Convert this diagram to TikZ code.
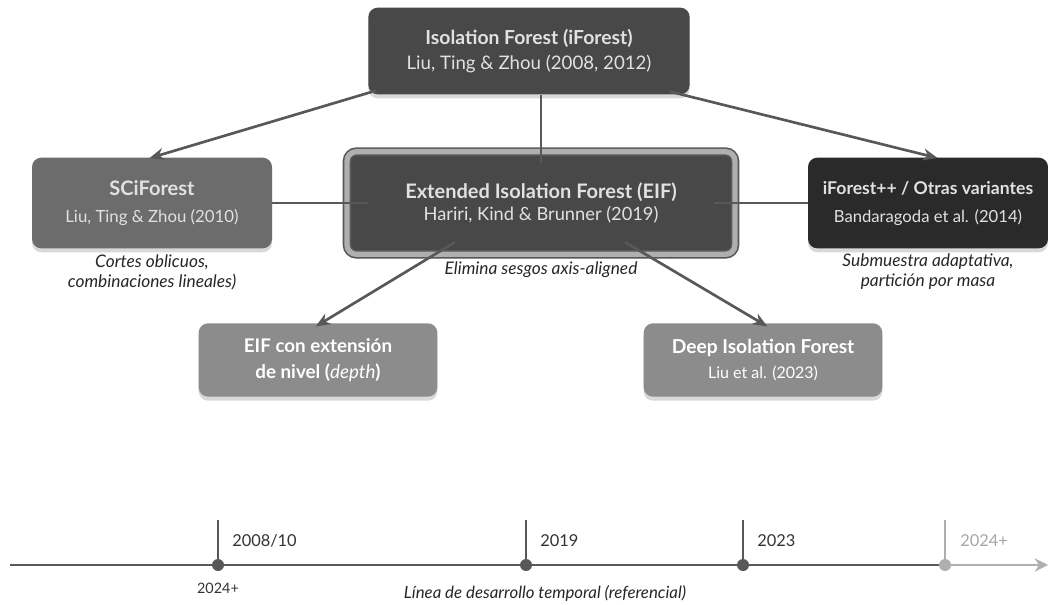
\documentclass[tikz,border=0pt]{standalone}
\usepackage{fontspec}
\setmainfont{Lato}
\usepackage{tikz}
\usetikzlibrary{calc, arrows.meta, shadows}
\tikzset{>=latex}
\definecolor{mygray1}{RGB}{72, 72, 72}
\definecolor{mygray2}{RGB}{108, 108, 108}
\definecolor{mygray3}{RGB}{42, 42, 42}
\definecolor{mygray4}{RGB}{140, 140, 140}
\definecolor{mygray5}{RGB}{88, 88, 88}
\definecolor{mygray6}{RGB}{225, 225, 225}
\definecolor{mygray7}{RGB}{175, 175, 175}

\begin{document}
\begin{tikzpicture}[
    x = 0.75pt, y = -0.75pt,
    b0/.style = {rounded corners = 7pt, align = center, text = mygray6, inner sep = 0pt,
                 drop shadow = {opacity = 0.3, shadow xshift = 0pt, shadow yshift = -3pt}},
    b1/.style = {b0, minimum width = 180pt, minimum height = 68pt},
    b2/.style = {b0, minimum width = 179pt, minimum height = 55pt, fill = mygray4, text = white},
    l0/.style = {line width = 2pt, draw = mygray5},
    l1/.style = {l0, -{Stealth[length = 11pt, width = 9pt]}, shorten > = -2pt},
    n0/.style = {align = center, font = \fontsize{13}{15}\selectfont\itshape, text = black!85},
    y0/.style = {anchor = west, inner sep = 0pt, font = \fontsize{12.3}{14}\selectfont, text = black!80},
    p0/.style = {circle, fill = mygray5, minimum size = 9pt, inner sep = 0pt},
]
\useasboundingbox (0,0) rectangle (1048,605);

\node[b0, fill = mygray1, minimum width = 241pt, minimum height = 65pt,
      font = \fontsize{14}{19}\selectfont] (ifo) at (529,51)
      {\textbf{\fontsize{14.5}{19}\selectfont Isolation Forest (iForest)}\\Liu, Ting \& Zhou (2008, 2012)};
\node[b1, fill = mygray2, font = \fontsize{12.6}{20}\selectfont] (sci) at (152,203)
      {\textbf{\fontsize{15}{20}\selectfont SCiForest}\\Liu, Ting \& Zhou (2010)};
\node[b0, fill = mygray1, minimum width = 291pt, minimum height = 77pt,
      draw = mygray5, line width = 1.2pt, double = mygray7, double distance = 4pt,
      font = \fontsize{13.7}{17}\selectfont] (eif) at (541,203)
      {\textbf{\fontsize{15}{17}\selectfont Extended Isolation Forest (EIF)}\\Hariri, Kind \& Brunner (2019)};
\node[b1, fill = mygray3, font = \fontsize{12.5}{21}\selectfont] (ipp) at (928,203)
      {\textbf{\fontsize{13.2}{21}\selectfont iForest++ / Otras variantes}\\Bandaragoda et al. (2014)};
\node[b2, font = \fontsize{14.1}{19}\selectfont\bfseries] (ext) at (318,360)
      {EIF con extensión\\de nivel (\textmd{\textit{depth}})};
\node[b2, font = \fontsize{12}{19}\selectfont] (dif) at (763,360)
      {\textbf{\fontsize{14.4}{19}\selectfont Deep Isolation Forest}\\Liu et al. (2023)};

\node[n0] (nsci) at (152,272) {Cortes oblicuos,\\combinaciones lineales)};
\node[n0] (neif) at (541,270) {Elimina sesgos axis-aligned};
\node[n0] (nipp) at (928,272) {Submuestra adaptativa,\\partición por masa};

\draw[l1] ($(ifo.south west)+(8,-4)$) -- (sci.north);
\draw[l1] ($(ifo.south east)+(-20,-3)$) -- ($(ipp.north)+(7,0)$);
\draw[l0] (eif.north |- ifo.south) -- ($(eif.north)+(0,12)$);
\draw[l0] (sci.east) -- ($(eif.west)+(22,0)$);
\draw[l0] ($(eif.east)+(-22,0)$) -- (ipp.west);
\draw[l1] ($(eif.south)+(-86,-13)$) -- ($(ext.north)+(0,2)$);
\draw[l1] ($(eif.south)+(84,-13)$) -- ($(dif.north)+(2,2)$);

\coordinate (t0) at (10,565);
\coordinate (t5) at (1048,565);
\coordinate (k1) at (218,520);
\coordinate (k2) at (526,520);
\coordinate (k3) at (743,520);
\coordinate (k4) at (945,520);
\draw[l0, line width = 2.2pt, draw = mygray7, -{Stealth[length = 10pt, width = 10pt]}] (k4 |- t0) -- (t5);
\draw[l0, line width = 2.2pt] (t0) -- (k4 |- t0);
\node[p0] (y1) at (218,565) {};
\node[p0] (y2) at (526,565) {};
\node[p0] (y3) at (743,565) {};
\node[p0, fill = mygray7] (y4) at (945,565) {};
\draw[mygray5, line width = 1.1pt] (k1) -- (y1);
\draw[mygray5, line width = 1.1pt] (k2) -- (y2);
\draw[mygray5, line width = 1.1pt] (k3) -- (y3);
\draw[mygray7, line width = 1.1pt] (k4) -- (y4);
\node[y0] (v1) at (232,541) {2008/10};
\node[y0] (v2) at (540,541) {2019};
\node[y0] (v3) at (757,541) {2023};
\node[y0, text = black!35] (v4) at (960,541) {2024+};
\node[font = \fontsize{10.8}{12}\selectfont, text = black!80] (v5) at (218,588) {2024+};
\node[n0, font = \fontsize{12.6}{14}\selectfont\itshape] (v6) at (545,593) {Línea de desarrollo temporal (referencial)};
\end{tikzpicture}
\end{document}
